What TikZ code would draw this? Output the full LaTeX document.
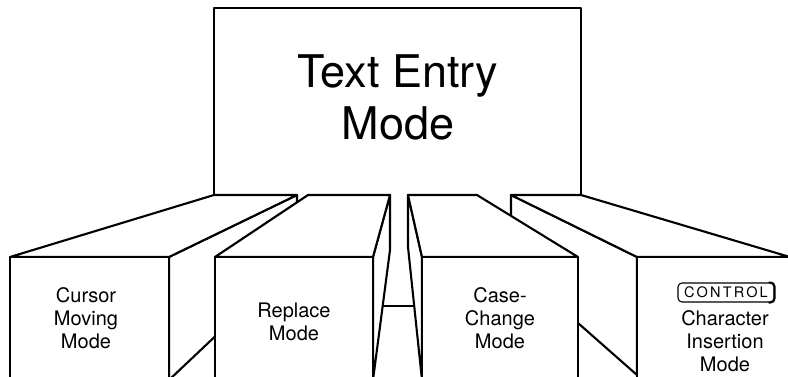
\documentclass[tikz,border=0pt]{standalone}
\usepackage{fontspec}
\setmainfont{TeX Gyre Heros}
\tikzset{
    mode-face/.style = {draw=black, fill=white, line width=2.1pt, line join=round},
    mode-label/.style = {align=center, inner sep=0pt, font=\fontsize{20}{23}\selectfont},
    entry-label/.style = {align=center, inner sep=0pt, font=\fontsize{45}{52}\selectfont},
    key-cap/.style = {draw=black, rounded corners=4pt, line width=1.1pt, minimum width=96pt, minimum height=19pt, inner sep=0pt, font=\fontsize{14.5}{15}\selectfont\addfontfeatures{LetterSpace=15}},
}

\begin{document}
\begin{tikzpicture}[x=1pt, y=-1pt]
\useasboundingbox (0,0) rectangle (788,377);
\clip (0,0) rectangle (788,377);
% main panel
\draw[mode-face, line width=2.3pt] (214,8) rectangle (581,306);
\node[entry-label] (entry) at (398,97) {Text Entry\\Mode};
% cursor moving box
\draw[mode-face] (169,257) -- (297,195) -- (297,259) -- (169,380) -- cycle;
\draw[mode-face] (10,257) -- (214,195) -- (297,195) -- (169,257) -- cycle;
\draw[mode-face] (10,257) rectangle (169,390);
\node[mode-label] (cursor) at (86,318.5) {Cursor\\Moving\\Mode};
% control box
\draw[mode-face] (637,257) -- (511,195) -- (511,264) -- (637,375) -- cycle;
\draw[mode-face] (637,257) -- (511,195) -- (581,195) -- (800,260) -- (800,257) -- cycle;
\draw[mode-face] (637,257) rectangle (800,390);
\node[key-cap] (key) at (726,292.5) {CONTROL};
\draw[line width=1.9pt, rounded corners=4pt] ([xshift=-6pt]key.north east) -- (key.north east) -- (key.south east) -- ([xshift=-6pt]key.south east);
\node[mode-label] (insert) at (725,341.5) {Character\\Insertion\\Mode};
% replace box
\draw[mode-face] (373,257) -- (390,195) -- (390,250) -- (373,380) -- cycle;
\draw[mode-face] (215,257) -- (308,195) -- (390,195) -- (373,257) -- cycle;
\draw[mode-face] (215,257) rectangle (373,390);
\node[mode-label] (replace) at (294,321.5) {Replace\\Mode};
% case change box
\draw[mode-face] (422,257) -- (408,195) -- (408,247) -- (422,380) -- cycle;
\draw[mode-face] (422,257) -- (408,195) -- (477,195) -- (578,257) -- cycle;
\draw[mode-face] (422,257) rectangle (578,390);
\node[mode-label] (case) at (500,318) {Case-\\Change\\Mode};
\end{tikzpicture}
\end{document}
